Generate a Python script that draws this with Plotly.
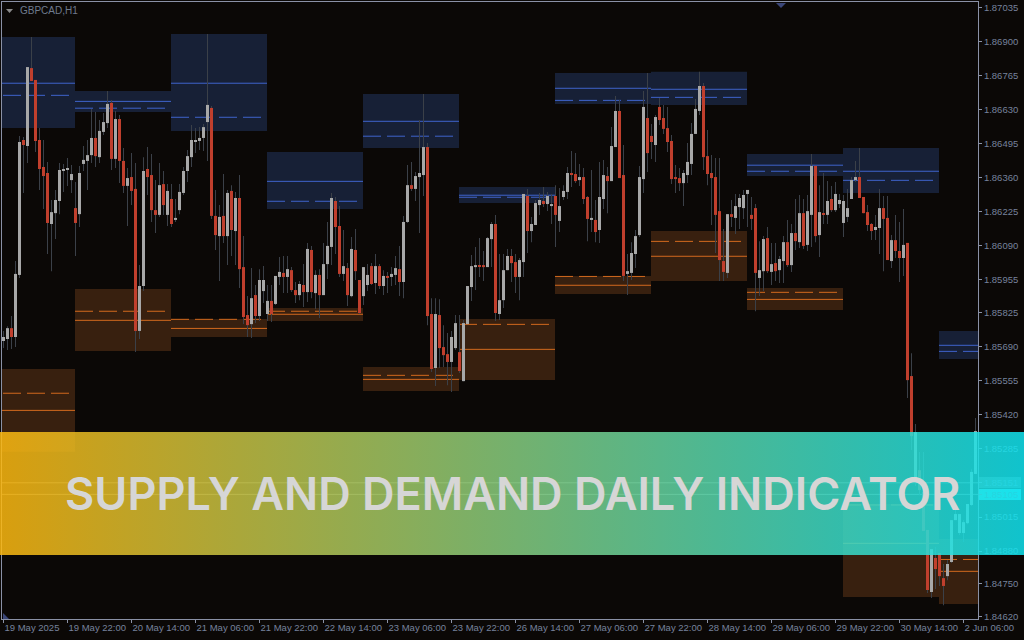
import numpy as np
import plotly.graph_objects as go

# GBPCAD H1 candles
bar_open = [1.85713,1.85721,1.85764,1.85729,1.85975,1.86510,1.86486,1.86795,1.86748,1.86510,
1.86403,1.86379,1.86177,1.86220,1.86268,1.86387,1.86391,1.86351,1.86240,1.86216,
1.86415,1.86427,1.86450,1.86518,1.86442,1.86542,1.86577,1.86657,1.86435,1.86593,
1.86427,1.86328,1.86363,1.86316,1.85753,1.85931,1.86395,1.86371,1.86232,1.86213,
1.86335,1.86213,1.86276,1.86193,1.86232,1.86300,1.86387,1.86442,1.86502,1.86506,
1.86518,1.86581,1.86637,1.86209,1.86129,1.86209,1.86129,1.86308,1.86149,1.86280,
1.86006,1.85816,1.85780,1.85895,1.85812,1.85911,1.85820,1.85872,1.85860,1.85967,
1.85983,1.85967,1.85994,1.85915,1.85895,1.85935,1.85907,1.86074,1.85903,1.85975,
1.85895,1.86018,1.86086,1.86268,1.86169,1.85979,1.86002,1.85891,1.86074,1.85955,
1.85891,1.85935,1.86010,1.85943,1.86010,1.85931,1.85971,1.85967,1.85975,1.85998,
1.85947,1.86185,1.86331,1.86316,1.86363,1.86371,1.86482,1.85820,1.85606,1.85816,
1.85689,1.85661,1.85630,1.85685,1.85669,1.85554,1.85780,1.85927,1.86006,1.86014,
1.86014,1.86006,1.86117,1.86177,1.85820,1.85875,1.85994,1.86050,1.86026,1.85967,
1.86026,1.86288,1.86149,1.86173,1.86252,1.86268,1.86256,1.86248,1.86288,1.86189,
1.86284,1.86304,1.86379,1.86375,1.86351,1.86363,1.86284,1.86193,1.86193,1.86153,
1.86276,1.86367,1.86347,1.86482,1.86625,1.86371,1.85979,1.85983,1.86058,1.86133,
1.86355,1.86597,1.86526,1.86490,1.86641,1.86597,1.86557,1.86506,1.86363,1.86359,
1.86339,1.86371,1.86415,1.86534,1.86625,1.86724,1.86446,1.86379,1.86363,1.86228,
1.86030,1.85983,1.86216,1.86201,1.86244,1.86240,1.86296,1.86213,1.86240,1.85963,
1.85990,1.86121,1.85987,1.86022,1.85994,1.86030,1.86105,1.86014,1.86141,1.86105,
1.86220,1.86094,1.86213,1.86407,1.86133,1.86220,1.86213,1.86276,1.86232,1.86256,
1.86181,1.86205,1.86276,1.86351,1.86363,1.86284,1.86224,1.86177,1.86153,1.86161,
1.86240,1.86201,1.86030,1.86113,1.86070,1.86042,1.86102,1.85574,1.85162,1.85201,
1.85114,1.84964,1.84718,1.84853,1.84872,1.84773,1.84781,1.84837,1.85003,1.84952,
1.84952,1.84991,1.85063,1.85186]
bar_high = [1.85753,1.85772,1.85812,1.86030,1.86526,1.86522,1.86799,1.86918,1.86748,1.86557,
1.86510,1.86423,1.86272,1.86312,1.86419,1.86415,1.86439,1.86411,1.86343,1.86407,
1.86486,1.86510,1.86633,1.86621,1.86589,1.86617,1.86704,1.86668,1.86625,1.86609,
1.86478,1.86399,1.86458,1.86419,1.86014,1.86442,1.86482,1.86454,1.86351,1.86419,
1.86387,1.86335,1.86335,1.86276,1.86335,1.86403,1.86470,1.86569,1.86557,1.86561,
1.86573,1.86930,1.86645,1.86312,1.86252,1.86375,1.86312,1.86331,1.86304,1.86371,
1.86129,1.85891,1.86002,1.85935,1.85998,1.86010,1.85935,1.85935,1.85971,1.86046,
1.86050,1.86050,1.86006,1.85947,1.85951,1.86018,1.86102,1.86090,1.85994,1.85998,
1.86102,1.86185,1.86300,1.86284,1.86248,1.86153,1.86022,1.86125,1.86157,1.85955,
1.86006,1.86018,1.86022,1.86058,1.86018,1.85994,1.85987,1.86006,1.86050,1.86090,
1.86209,1.86411,1.86423,1.86383,1.86589,1.86692,1.86498,1.85883,1.85883,1.85879,
1.85776,1.85745,1.85753,1.85816,1.85816,1.85796,1.85931,1.86054,1.86086,1.86121,
1.86070,1.86125,1.86185,1.86213,1.86058,1.86058,1.86078,1.86078,1.86058,1.86042,
1.86296,1.86316,1.86205,1.86272,1.86300,1.86324,1.86304,1.86296,1.86331,1.86320,
1.86331,1.86403,1.86466,1.86458,1.86415,1.86399,1.86288,1.86391,1.86272,1.86423,
1.86431,1.86403,1.86561,1.86684,1.86668,1.86490,1.86058,1.86105,1.86153,1.86407,
1.86704,1.86776,1.86573,1.86609,1.86676,1.86649,1.86641,1.86530,1.86411,1.86399,
1.86391,1.86498,1.86577,1.86672,1.86780,1.86736,1.86550,1.86450,1.86439,1.86439,
1.86157,1.86216,1.86272,1.86296,1.86296,1.86312,1.86312,1.86284,1.86256,1.86109,
1.86129,1.86165,1.86102,1.86102,1.86050,1.86129,1.86193,1.86177,1.86276,1.86292,
1.86276,1.86292,1.86454,1.86407,1.86331,1.86379,1.86347,1.86328,1.86343,1.86296,
1.86292,1.86316,1.86363,1.86427,1.86478,1.86284,1.86252,1.86181,1.86213,1.86316,
1.86288,1.86288,1.86133,1.86213,1.86185,1.86236,1.86102,1.85665,1.85384,1.85273,
1.85273,1.84964,1.84888,1.84896,1.84872,1.84829,1.84845,1.85003,1.85043,1.85027,
1.85003,1.85067,1.85205,1.85408]
bar_low = [1.85685,1.85677,1.85681,1.85689,1.85963,1.86300,1.86419,1.86744,1.86462,1.86312,
1.86236,1.86058,1.85990,1.86117,1.86216,1.86304,1.86328,1.86300,1.86050,1.86165,
1.86387,1.86312,1.86419,1.86403,1.86419,1.86530,1.86557,1.86391,1.86399,1.86339,
1.86300,1.86169,1.86252,1.85669,1.85721,1.85911,1.86292,1.86185,1.86141,1.86205,
1.86213,1.86169,1.86165,1.86185,1.86216,1.86292,1.86343,1.86403,1.86458,1.86470,
1.86466,1.86427,1.86197,1.86074,1.85951,1.86102,1.86014,1.86050,1.86014,1.85923,
1.85780,1.85729,1.85725,1.85784,1.85792,1.85864,1.85792,1.85788,1.85856,1.85935,
1.85903,1.85903,1.85907,1.85864,1.85875,1.85848,1.85868,1.85883,1.85840,1.85804,
1.85895,1.85959,1.86014,1.86058,1.85967,1.85951,1.85852,1.85887,1.85955,1.85820,
1.85856,1.85911,1.85935,1.85899,1.85919,1.85895,1.85903,1.85931,1.85935,1.85891,
1.85883,1.86181,1.86308,1.86268,1.86141,1.86288,1.85776,1.85590,1.85535,1.85606,
1.85610,1.85538,1.85511,1.85677,1.85586,1.85554,1.85780,1.85872,1.85915,1.85967,
1.85951,1.86006,1.86006,1.85792,1.85796,1.85844,1.85994,1.85947,1.85903,1.85875,
1.85967,1.86062,1.86105,1.86173,1.86213,1.86244,1.86228,1.86177,1.86086,1.86145,
1.86272,1.86276,1.86324,1.86339,1.86328,1.86256,1.86109,1.86145,1.86105,1.86102,
1.86236,1.86220,1.86347,1.86482,1.86359,1.85951,1.85895,1.85955,1.86002,1.86125,
1.86300,1.86383,1.86435,1.86423,1.86569,1.86534,1.86462,1.86335,1.86300,1.86308,
1.86248,1.86339,1.86371,1.86534,1.86609,1.86391,1.86331,1.86173,1.86062,1.85951,
1.85951,1.85963,1.86165,1.86137,1.86157,1.86197,1.86165,1.86153,1.85831,1.85891,
1.85911,1.85983,1.85935,1.85951,1.85943,1.85943,1.86006,1.85987,1.86074,1.86082,
1.86078,1.86070,1.86086,1.86105,1.86046,1.86177,1.86177,1.86224,1.86224,1.86240,
1.86125,1.86185,1.86276,1.86343,1.86280,1.86220,1.86149,1.86113,1.86113,1.86058,
1.85990,1.86034,1.86002,1.86042,1.85947,1.85971,1.85487,1.85281,1.85138,1.85102,
1.84960,1.84714,1.84694,1.84730,1.84742,1.84666,1.84765,1.84833,1.85003,1.84944,
1.84916,1.84987,1.85059,1.85186]
bar_close = [1.85729,1.85764,1.85729,1.85979,1.86502,1.86490,1.86799,1.86744,1.86506,1.86395,
1.86367,1.86181,1.86224,1.86272,1.86391,1.86395,1.86395,1.86375,1.86181,1.86379,
1.86431,1.86450,1.86518,1.86446,1.86546,1.86581,1.86653,1.86435,1.86593,1.86427,
1.86328,1.86359,1.86308,1.85753,1.85931,1.86387,1.86363,1.86232,1.86213,1.86331,
1.86252,1.86308,1.86177,1.86201,1.86304,1.86387,1.86446,1.86510,1.86510,1.86518,
1.86561,1.86649,1.86209,1.86133,1.86205,1.86129,1.86300,1.86153,1.86280,1.85998,
1.85808,1.85776,1.85883,1.85812,1.85955,1.85955,1.85872,1.85820,1.85971,1.85987,
1.85967,1.85998,1.85915,1.85895,1.85939,1.85907,1.86078,1.85907,1.85975,1.85895,
1.86018,1.86090,1.86280,1.86165,1.85979,1.86010,1.85895,1.86078,1.85990,1.85824,
1.86006,1.85975,1.85939,1.86010,1.85931,1.85971,1.85963,1.85979,1.86002,1.85947,
1.86185,1.86331,1.86316,1.86367,1.86379,1.86482,1.85812,1.85602,1.85820,1.85685,
1.85657,1.85630,1.85729,1.85784,1.85594,1.85784,1.85931,1.86010,1.86014,1.86010,
1.86006,1.86121,1.86177,1.85824,1.85875,1.85994,1.86050,1.86022,1.85967,1.86034,
1.86296,1.86149,1.86177,1.86260,1.86272,1.86256,1.86288,1.86256,1.86213,1.86248,
1.86308,1.86379,1.86371,1.86347,1.86363,1.86276,1.86197,1.86201,1.86145,1.86284,
1.86371,1.86347,1.86486,1.86625,1.86359,1.85971,1.85990,1.86062,1.86129,1.86363,
1.86641,1.86458,1.86502,1.86601,1.86589,1.86554,1.86502,1.86355,1.86355,1.86339,
1.86379,1.86423,1.86534,1.86633,1.86724,1.86442,1.86375,1.86359,1.86213,1.86034,
1.85987,1.86216,1.86205,1.86248,1.86280,1.86292,1.86312,1.86197,1.85983,1.85994,
1.86117,1.85990,1.86018,1.85990,1.86038,1.86105,1.86014,1.86141,1.86109,1.86220,
1.86090,1.86228,1.86407,1.86129,1.86224,1.86213,1.86268,1.86232,1.86296,1.86272,
1.86268,1.86240,1.86351,1.86363,1.86280,1.86220,1.86173,1.86149,1.86165,1.86240,
1.86197,1.86034,1.86113,1.86070,1.86042,1.86094,1.85558,1.85336,1.85352,1.85122,
1.84960,1.84726,1.84888,1.84809,1.84781,1.84742,1.84829,1.85003,1.85027,1.85027,
1.84995,1.85067,1.85194,1.85356]

date_ticks = [0, 16, 32, 48, 64, 80, 96, 112, 128, 144, 160, 176, 192, 208, 224, 240]
date_labels = ["19 May 2025", "19 May 22:00", "20 May 14:00", "21 May 06:00", "21 May 22:00",
               "22 May 14:00", "23 May 06:00", "23 May 22:00", "26 May 14:00", "27 May 06:00",
               "27 May 22:00", "28 May 14:00", "29 May 06:00", "29 May 22:00", "30 May 14:00",
               "2 Jun 06:00"]
price_ticks = [1.87035, 1.86900, 1.86765, 1.86630, 1.86495, 1.86360, 1.86225, 1.86090, 1.85955,
               1.85825, 1.85690, 1.85555, 1.85420, 1.85285, 1.85151, 1.85105, 1.85015, 1.84880,
               1.84750, 1.84620]

# one zone per trading day, bar numbers where each day starts
day_edges = [-6.125, 17.875, 41.875, 65.875, 89.875, 113.875, 137.875, 161.875, 185.875, 209.875, 233.875, 257.875]
supply_top = [1.86918, 1.86704, 1.86930, 1.86462, 1.86692, 1.86324, 1.86776, 1.86780, 1.86454, 1.86478, 1.85753]
supply_bottom = [1.86557, 1.86621, 1.86546, 1.86236, 1.86478, 1.86260, 1.86653, 1.86649, 1.86367, 1.86300, 1.85642]
supply_solid = [1.86735, 1.86663, 1.86735, 1.86346, 1.86584, 1.86291, 1.86715, 1.86711, 1.86410, 1.86386, 1.85696]
supply_dash = [1.86687, 1.86636, 1.86600, 1.86267, 1.86525, 1.86283, 1.86667, 1.86679, 1.86386, 1.86350, 1.85672]
demand_top = [1.85602, 1.85919, 1.85800, 1.85844, 1.85610, 1.85800, 1.85971, 1.86149, 1.85923, 1.85067, 1.84928]
demand_bottom = [1.85274, 1.85673, 1.85729, 1.85792, 1.85515, 1.85558, 1.85899, 1.85951, 1.85836, 1.84698, 1.84670]
demand_solid = [1.85438, 1.85795, 1.85763, 1.85819, 1.85561, 1.85680, 1.85934, 1.86049, 1.85878, 1.84911, 1.84800]
demand_dash = [1.85506, 1.85831, 1.85799, 1.85831, 1.85577, 1.85779, 1.85969, 1.86108, 1.85906, 1.85063, 1.84847]

ask_price = 1.85151
bid_price = 1.85105

BG = "#0b0806"
AXIS = "#8a91a6"
TEXT = "#76829c"
GRAY = "#a8a8a8"
RED = "#c03f2d"
WICK = "#3b4048"

x = np.arange(len(bar_open))
o = np.array(bar_open)
c = np.array(bar_close)
h = np.array(bar_high)
l = np.array(bar_low)
colors = [GRAY if cc >= oo else RED for oo, cc in zip(o, c)]

W, H = 1024, 640
def px(v):
    return v / W
def py(v):
    return (H - v) / H

fig = go.Figure()
fig.add_trace(go.Bar(x=x, y=h - l, base=l, width=0.25, marker=dict(color=WICK, line_width=0)))
fig.add_trace(go.Bar(x=x, y=np.maximum(np.abs(c - o), 0.00004), base=np.minimum(o, c), width=0.75,
                     marker=dict(color=colors, line_width=0)))

# gradient banner on its own axes, above the chart and its tick labels
fig.add_trace(go.Scatter(x=[0, 1, 1, 0, 0], y=[0, 0, 1, 1, 0], mode="none", fill="toself",
                         fillgradient=dict(type="horizontal",
                                           colorscale=[[0, "rgba(253,185,16,0.85)"], [1, "rgba(17,228,240,0.85)"]]),
                         xaxis="x2", yaxis="y2"))

shapes = []
def zones(top, bottom, solid, dash, fill, line):
    for i in range(len(top)):
        x0, x1 = day_edges[i], day_edges[i + 1]
        shapes.append(dict(type="rect", layer="below", x0=x0, x1=x1, y0=bottom[i], y1=top[i],
                           fillcolor=fill, line_width=0))
        shapes.append(dict(type="line", layer="below", x0=x0, x1=x1, y0=solid[i], y1=solid[i],
                           line=dict(color=line, width=1)))
        shapes.append(dict(type="line", layer="below", x0=x0, x1=x1, y0=dash[i], y1=dash[i],
                           line=dict(color=line, width=1, dash="18px,6px")))

zones(supply_top, supply_bottom, supply_solid, supply_dash, "#172036", "#3f63cc")
zones(demand_top, demand_bottom, demand_solid, demand_dash, "#38200f", "#d2691e")

# ask / bid lines and their price boxes, they sit under the banner
shapes.append(dict(type="line", layer="below", xref="paper", x0=px(2), x1=px(978), y0=ask_price, y1=ask_price,
                   line=dict(color="#777777", width=1)))
shapes.append(dict(type="line", layer="below", xref="paper", x0=px(2), x1=px(978), y0=bid_price, y1=bid_price,
                   line=dict(color="#777777", width=1)))
shapes.append(dict(type="rect", layer="below", xref="paper", yref="paper", x0=px(979), x1=px(1021),
                   y0=py(488), y1=py(477), fillcolor="#505050", line_width=0))
shapes.append(dict(type="rect", layer="below", xref="paper", yref="paper", x0=px(979), x1=px(1021),
                   y0=py(500), y1=py(489), fillcolor="#3ad8e8", line_width=0))

# small MT4 markers
shapes.append(dict(type="path", xref="paper", yref="paper", fillcolor="#8a8a8a", line_width=0,
                   path=f"M {px(6)} {py(9)} L {px(13)} {py(9)} L {px(9.5)} {py(13)} Z"))
shapes.append(dict(type="path", xref="paper", yref="paper", fillcolor="#3a4678", line_width=0,
                   path=f"M {px(776)} {py(3)} L {px(786)} {py(3)} L {px(781)} {py(8)} Z"))
shapes.append(dict(type="path", xref="paper", yref="paper", fillcolor="#3a4678", line_width=0,
                   path=f"M {px(3)} {py(613)} L {px(3)} {py(619)} L {px(9)} {py(619)} Z"))

annotations = [
    dict(text="GBPCAD,H1", xref="paper", yref="paper", x=px(18), y=py(10), xanchor="left", yanchor="middle",
         showarrow=False, font=dict(family="Liberation Sans", size=10, color="#6f7b8e")),
    dict(text="SUPPLY AND DEMAND DAILY INDICATOR", xref="paper", yref="paper", x=px(512), y=py(493.5),
         xanchor="center", yanchor="middle", showarrow=False,
         font=dict(family="Inter", size=45, color="#d6d6d6", weight=600)),
]

fig.update_layout(
    width=W, height=H, autosize=False, margin=dict(l=0, r=0, t=0, b=0, pad=0),
    paper_bgcolor=BG, plot_bgcolor="rgba(0,0,0,0)", showlegend=False, barmode="overlay",
    shapes=shapes, annotations=annotations,
    font=dict(family="Liberation Sans", size=10, color=TEXT),
    xaxis=dict(domain=[px(2), px(978)], range=[-0.375, 243.625], tickvals=date_ticks, ticktext=date_labels,
               ticklabelposition="outside right", tickangle=0, automargin=False,
               showgrid=False, zeroline=False, showline=True, mirror=True, linecolor=AXIS, linewidth=1,
               ticks="outside", ticklen=3, tickcolor=AXIS, tickfont=dict(size=9.5, color=TEXT)),
    yaxis=dict(domain=[py(619), py(2)], range=[1.84611, 1.87057], side="right", tickvals=price_ticks,
               ticktext=[f"{p:.5f}" for p in price_ticks], automargin=False, showgrid=False, zeroline=False,
               showline=True, mirror=True, linecolor=AXIS, linewidth=1,
               ticks="outside", ticklen=3, tickcolor=AXIS, tickfont=dict(size=9.5, color=TEXT)),
    xaxis2=dict(domain=[0, 1], range=[0, 1], visible=False, anchor="y2", automargin=False),
    yaxis2=dict(domain=[py(555), py(432)], range=[0, 1], visible=False, anchor="x2", automargin=False),
)

fig.write_html("out.html", config={"displayModeBar": False},
               post_script="document.body.style.margin='0';document.documentElement.style.overflow='hidden';")
